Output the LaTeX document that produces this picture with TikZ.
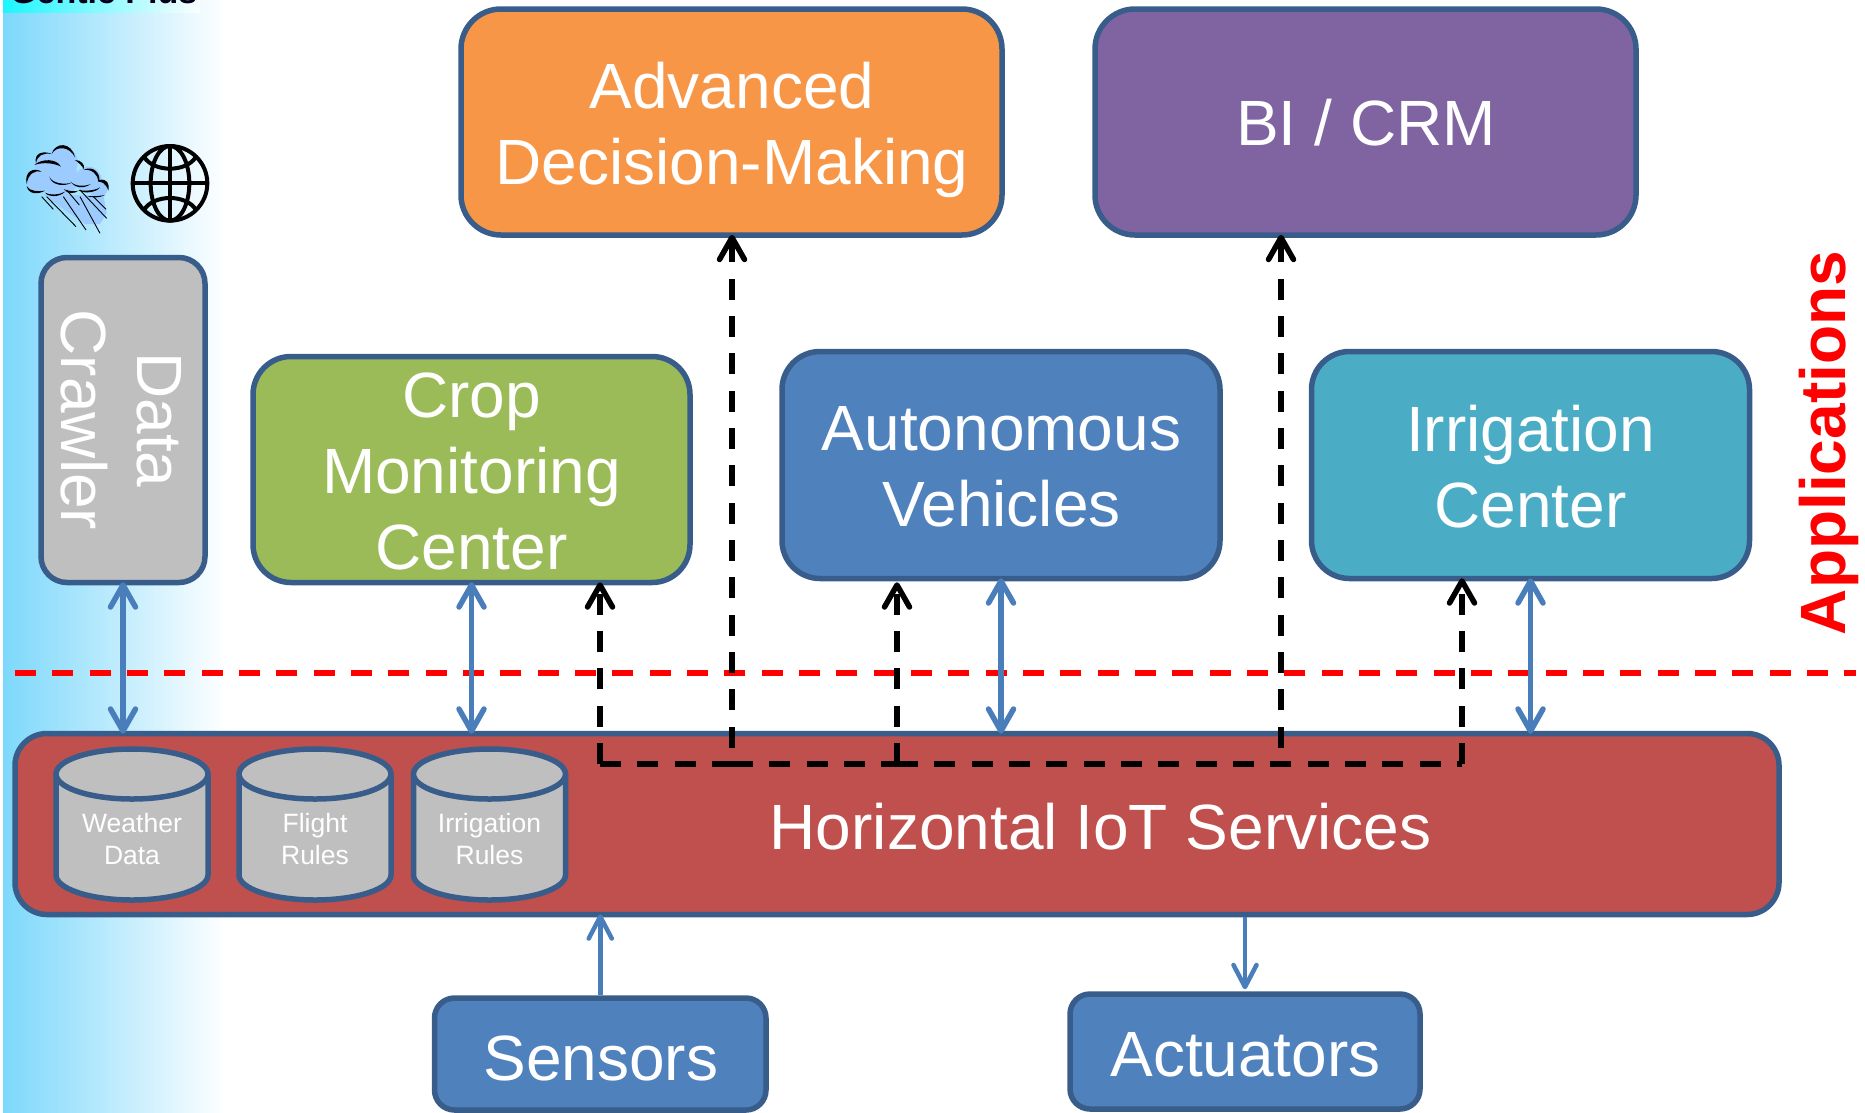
\documentclass[tikz,border=0pt]{standalone}
\usepackage{fontspec}
\setmainfont{Liberation Sans}
\usetikzlibrary{arrows.meta}
\definecolor{edgeblue}{HTML}{385D8A}
\definecolor{lineblue}{HTML}{4A7EBB}
\definecolor{fillblue}{HTML}{4F81BD}
\definecolor{fillgreen}{HTML}{9BBB59}
\definecolor{fillpurple}{HTML}{8064A2}
\definecolor{fillorange}{HTML}{F79646}
\definecolor{fillaqua}{HTML}{4BACC6}
\definecolor{fillred}{HTML}{C0504D}
\definecolor{fillgray}{HTML}{BFBFBF}
\definecolor{skyblue}{HTML}{7DD8FB}
\definecolor{cloudblue}{HTML}{9CCBFF}
\tikzset{
  boxbase/.style={draw=edgeblue,line width=5.5pt,inner sep=0pt},
  boxtext/.style={text=white,align=center,inner sep=0pt,font=\fontsize{64}{76}\selectfont},
  cyledge/.style={draw=edgeblue,line width=5.5pt,fill=fillgray},
  cyltext/.style={text=white,align=center,inner sep=0pt,font=\fontsize{26.5}{32}\selectfont},
  twoway/.style={draw=lineblue,line width=5.5pt,shorten <=-3pt,shorten >=-3pt,{Straight Barb[length=22pt,width=25pt,round]}-{Straight Barb[length=22pt,width=25pt,round]}},
  oneway/.style={draw=lineblue,line width=4.5pt,-{Straight Barb[length=22pt,width=23pt,round]}},
  feed/.style={draw=black,line width=5.5pt,shorten >=-3pt,dash pattern=on 21pt off 16.33pt,-{Straight Barb[length=22pt,width=25pt,round]}},
  feedgap/.style={feed,dash phase=21pt},
  bus/.style={draw=black,line width=5.5pt,dash pattern=on 21pt off 16.33pt},
  divider/.style={draw=red,line width=5.5pt,dash pattern=on 21pt off 16.33pt},
}
\newcommand{\drumat}[1]{%
  \begin{scope}[shift={(#1,0)}]
    \draw[cyledge] (-76,774) -- (-76,875) .. controls (-76,888.8) and (-42,900) .. (0,900)
      .. controls (42,900) and (76,888.8) .. (76,875) -- (76,774);
    \draw[cyledge] (0,774) circle[x radius=76,y radius=25];
  \end{scope}}
\begin{document}
\begin{tikzpicture}[x=1pt,y=-1pt]
\useasboundingbox (0,0) rectangle (1865,1112);
% background band
\shade[left color=skyblue,right color=white,shading angle=90] (3,0) rectangle (226,1112);
\shade[left color=cyan!85!skyblue,right color=white,opacity=.9] (3,0) rectangle (200,12);
\begin{scope}
  \clip (0,0) rectangle (300,12);
  \node[anchor=base west,inner sep=0pt,text=black!90!blue,font=\bfseries\fontsize{34}{40}\selectfont] (title) at (10,3) {Gentle Plus};
\end{scope}
% divider
\coordinate (dl) at (15,673);
\coordinate (dr) at (1856,673);
\draw[divider] (dl) -- (dr);
% boxes
\node[boxbase,fill=fillorange,rounded corners=40pt,minimum width=541pt,minimum height=226pt] (adm) at (731.5,122) {};
\node[boxtext] (admt) at (732,129.5) {Advanced\\Decision-Making};
\node[boxbase,fill=fillpurple,rounded corners=40pt,minimum width=541pt,minimum height=226pt] (bi) at (1365.5,122) {};
\node[boxtext] (bit) at (1366,123) {BI / CRM};
\node[boxbase,fill=fillgray,rounded corners=26pt,minimum width=164pt,minimum height=325pt] (crawler) at (123,420) {};
\node[boxtext,rotate=-90] (crawlertext) at (121.5,420) {Data\\Crawler};
\node[boxbase,fill=fillgreen,rounded corners=38pt,minimum width=437pt,minimum height=226pt] (crop) at (471.5,469.5) {};
\node[boxtext] (cropt) at (471.5,471.5) {Crop\\Monitoring\\Center};
\node[boxbase,fill=fillblue,rounded corners=38pt,minimum width=438pt,minimum height=227pt] (auto) at (1001,465) {};
\node[boxtext] (autot) at (1001.5,467) {Autonomous\\Vehicles};
\node[boxbase,fill=fillaqua,rounded corners=38pt,minimum width=438pt,minimum height=227pt] (irr) at (1530.5,465) {};
\node[boxtext] (irrt) at (1530.5,467) {Irrigation\\Center};
\node[boxbase,fill=fillred,rounded corners=32pt,minimum width=1764pt,minimum height=181pt] (hs) at (897,824) {};
\node[boxtext] (hstext) at (1100.5,827) {Horizontal IoT Services};
\node[boxbase,fill=fillblue,rounded corners=20pt,minimum width=331.5pt,minimum height=112pt] (sensors) at (600.25,1054) {};
\node[boxtext] (sensorst) at (600.75,1058) {Sensors};
\node[boxbase,fill=fillblue,rounded corners=20pt,minimum width=350pt,minimum height=115pt] (act) at (1245,1051.5) {};
\node[boxtext] (actt) at (1245.5,1054.5) {Actuators};
% cylinders
\drumat{132}
\drumat{315}
\drumat{489.5}
\node[cyltext] (cwt) at (132,839) {Weather\\Data};
\node[cyltext] (cft) at (315,839) {Flight\\Rules};
\node[cyltext] (cit) at (489.5,839) {Irrigation\\Rules};
% two-way connectors
\draw[twoway] (crawler.south) -- (crawler.south |- hs.north);
\draw[twoway] (crop.south) -- (crop.south |- hs.north);
\draw[twoway] (auto.south) -- (auto.south |- hs.north);
\draw[twoway] (irr.south) -- (irr.south |- hs.north);
% one-way connectors
\draw[oneway,shorten >=-3pt] (sensors.north) -- (sensors.north |- hs.south);
\draw[oneway,shorten >=2pt] (act.north |- hs.south) -- (act.north);
% dashed feeds
\coordinate (busa) at (600,764);
\coordinate (busb) at (732,764);
\coordinate (busc) at (897,764);
\coordinate (busd) at (1281,764);
\coordinate (buse) at (1462,764);
\draw[bus] (busa) -- (busb);
\draw[bus] (busb) -- (busc);
\draw[bus] (busc) -- (buse);
\draw[feed] (busa) -- (busa |- crop.south);
\draw[feedgap] (busb) -- (busb |- adm.south);
\draw[feed,shorten >=1pt] (busc) -- (busc |- auto.south);
\draw[feedgap] (busd) -- (busd |- bi.south);
\draw[feed] (buse) -- (buse |- irr.south);
% side label
\node[anchor=base,rotate=90,inner sep=0pt,text=red,font=\bfseries\fontsize{64}{70}\selectfont] (apps) at (1845,443) {Applications};
% cloud icon
\begin{scope}[scale=0.33333]
  \fill[cloudblue] (130,585) -- (310,585) -- (320,640) -- (300,672) -- (255,672) -- cycle;
  \fill[cloudblue] (185,487) circle (48);
  \fill[cloudblue] (135,490) circle (30);
  \fill[cloudblue] (115,540) circle (35);
  \fill[cloudblue] (180,535) circle (55);
  \fill[cloudblue] (265,540) circle (40);
  \fill[cloudblue] (295,565) circle (28);
  \fill[black] (108,490) .. controls (100,460) and (130,450) .. (155,462) .. controls (130,458) and (112,465) .. (108,490);
  \fill[black] (155,462) .. controls (165,425) and (215,425) .. (225,472) .. controls (210,440) and (170,435) .. (155,462);
  \fill[black] (225,480) .. controls (245,480) and (255,495) .. (252,508) .. controls (245,495) and (235,488) .. (225,480);
  \fill[black] (250,510) .. controls (280,495) and (300,520) .. (298,540) .. controls (320,535) and (330,550) .. (325,572) .. controls (318,550) and (305,545) .. (295,545) .. controls (295,525) and (275,505) .. (250,510);
  \fill[black] (80,552) .. controls (72,515) and (100,500) .. (125,515) .. controls (105,510) and (85,520) .. (80,552);
  \fill[black] (103,495) .. controls (125,475) and (170,475) .. (183,500) .. controls (165,490) and (130,485) .. (103,495);
  \fill[black] (148,530) .. controls (155,550) and (195,555) .. (215,548) .. controls (195,560) and (155,558) .. (148,530);
  \fill[black] (212,545) .. controls (225,560) and (255,560) .. (272,552) .. controls (255,566) and (225,566) .. (212,545);
  \fill[black] (80,558) .. controls (90,575) and (115,575) .. (135,572) .. controls (115,584) and (85,584) .. (80,558);
  \fill[black] (135,578) .. controls (150,586) and (175,586) .. (195,575) .. controls (180,592) and (145,592) .. (135,578);
  \fill[black] (192,568) .. controls (205,573) and (225,576) .. (235,572) .. controls (225,582) and (200,582) .. (192,568);
  \fill[black] (235,570) .. controls (255,574) and (285,572) .. (300,562) .. controls (290,578) and (250,582) .. (235,570);
  \fill[black] (260,588) .. controls (280,590) and (300,588) .. (315,585) .. controls (300,594) and (275,594) .. (260,588);
  \draw[black,line width=.9pt]
    (125,590) -- (160,628)
    (140,590) -- (228,680)
    (190,590) -- (258,690)
    (200,570) -- (238,615)
    (240,590) -- (300,700)
    (240,570) -- (320,655)
    (280,590) -- (318,628);
  % globe
  \draw[black,line width=4pt] (510,550) circle (112);
  \draw[black,line width=4pt] (510,550) circle[x radius=58,y radius=112];
  \draw[black,line width=4pt] (510,438) -- (510,662);
  \draw[black,line width=4pt] (398,550) -- (622,550);
  \draw[black,line width=4pt] (432,470) .. controls (460,518) and (560,518) .. (588,470);
  \draw[black,line width=4pt] (432,630) .. controls (460,582) and (560,582) .. (588,630);
\end{scope}
\end{tikzpicture}
\end{document}
